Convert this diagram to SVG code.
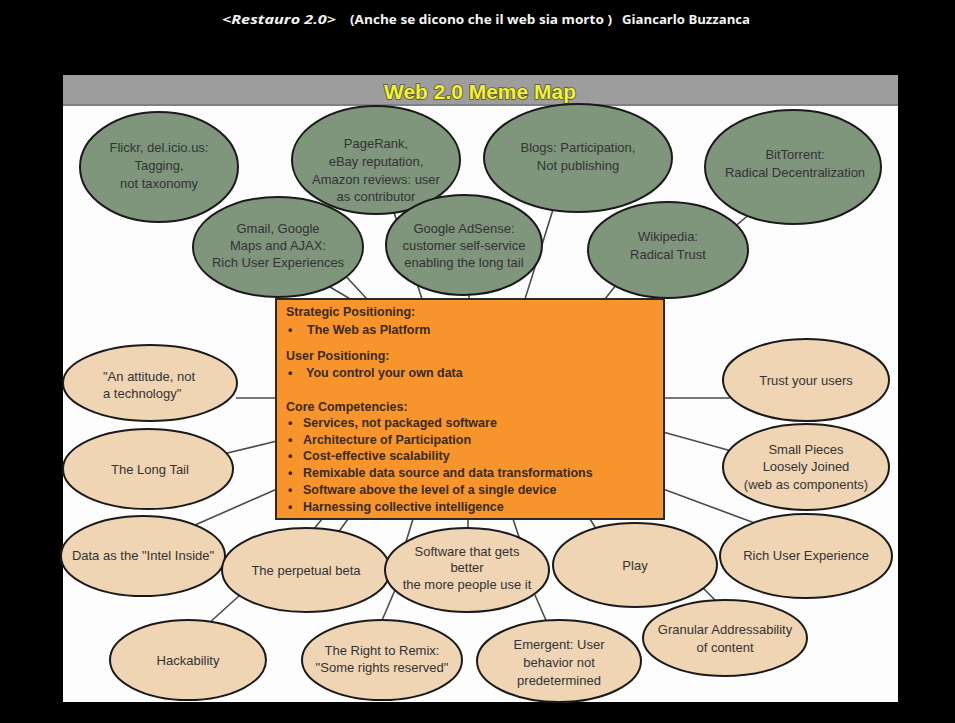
<svg xmlns="http://www.w3.org/2000/svg" width="955" height="723" viewBox="0 0 955 723">
<style>
.g{fill:#7f957c;stroke:#1a1a1a;stroke-width:2}
.b{fill:#efd5b3;stroke:#1a1a1a;stroke-width:2}
.t{font-family:"Liberation Sans",Arial,sans-serif;font-size:13px;fill:#333;text-anchor:middle}
.ts{font-family:"Liberation Sans",Arial,sans-serif;font-size:13px;fill:#333;text-anchor:start}
.bx{font-family:"Liberation Sans",Arial,sans-serif;font-size:12.5px;font-weight:bold;fill:#3a2a1a}
.c line{stroke:#4a4a4a;stroke-width:1.6}
.hd{font-family:"Open Sans","Liberation Sans",sans-serif;font-size:12.5px;font-weight:bold;fill:#f4f4f4}
.mm{font-family:"Liberation Sans",Arial,sans-serif;font-size:20px;font-weight:bold;fill:#f3f03a;stroke:#55552a;stroke-width:1.6;paint-order:stroke;text-anchor:middle}
</style>
<rect x="0" y="0" width="955" height="723" fill="#000"/>
<g id="title">
<text class="hd" x="222" y="24" font-style="italic" textLength="114" lengthAdjust="spacingAndGlyphs">&lt;Restauro 2.0&gt;</text>
<text class="hd" x="350" y="24" font-size="11.5" textLength="262" lengthAdjust="spacingAndGlyphs">(Anche se dicono che il web sia morto )</text>
<text class="hd" x="622" y="24" font-size="11.5" textLength="128" lengthAdjust="spacingAndGlyphs">Giancarlo Buzzanca</text>
</g>
<rect x="63" y="75" width="835" height="627" fill="#fdfdfd"/>
<g id="header">
<rect x="63" y="75" width="835" height="30" fill="#9d9d9d"/>
<rect x="63" y="104" width="835" height="2" fill="#808080"/>
<text class="mm" x="480" y="99" textLength="192" lengthAdjust="spacingAndGlyphs">Web 2.0 Meme Map</text>
</g>
<g id="connectors" class="c">
<line x1="235" y1="231" x2="352" y2="300"/>
<line x1="340" y1="270" x2="367" y2="299"/>
<line x1="390" y1="200" x2="422" y2="299"/>
<line x1="469" y1="288" x2="469" y2="299"/>
<line x1="556" y1="200" x2="525" y2="299"/>
<line x1="620" y1="280" x2="605" y2="299"/>
<line x1="752" y1="212" x2="650" y2="299"/>
<line x1="236" y1="398" x2="277" y2="398"/>
<line x1="215" y1="456" x2="277" y2="441"/>
<line x1="195" y1="525" x2="277" y2="489"/>
<line x1="322" y1="519" x2="305" y2="540"/>
<line x1="348" y1="519" x2="335" y2="537"/>
<line x1="413" y1="519" x2="405" y2="545"/>
<line x1="468" y1="519" x2="468" y2="535"/>
<line x1="513" y1="519" x2="520" y2="540"/>
<line x1="590" y1="519" x2="598" y2="532"/>
<line x1="663" y1="398" x2="730" y2="398"/>
<line x1="663" y1="432" x2="735" y2="452"/>
<line x1="663" y1="489" x2="760" y2="525"/>
<line x1="240" y1="595" x2="208" y2="624"/>
<line x1="395" y1="590" x2="380" y2="625"/>
<line x1="535" y1="595" x2="548" y2="625"/>
<line x1="700" y1="585" x2="720" y2="605"/>
</g>
<g id="flickr"><ellipse class="g" cx="159" cy="167" rx="79" ry="55"/>
<text class="t" x="159" y="152">Flickr, del.icio.us:</text><text class="t" x="159" y="170">Tagging,</text><text class="t" x="159" y="188">not taxonomy</text></g>
<g id="pagerank"><ellipse class="g" cx="376" cy="160" rx="84" ry="54"/>
<text class="t" x="376" y="148">PageRank,</text><text class="t" x="376" y="166">eBay reputation,</text><text class="t" x="376" y="184">Amazon reviews:  user</text><text class="t" x="376" y="201">as contributor</text></g>
<g id="blogs"><ellipse class="g" cx="578" cy="158" rx="94" ry="54"/>
<text class="t" x="578" y="152">Blogs:  Participation,</text><text class="t" x="578" y="170">Not publishing</text></g>
<g id="bittorrent"><ellipse class="g" cx="793" cy="167" rx="88" ry="57"/>
<text class="t" x="795" y="159">BitTorrent:</text><text class="t" x="795" y="177">Radical Decentralization</text></g>
<g id="gmail"><ellipse class="g" cx="278" cy="247" rx="85" ry="50"/>
<text class="t" x="278" y="233">Gmail, Google</text><text class="t" x="278" y="250">Maps and AJAX:</text><text class="t" x="278" y="267">Rich User Experiences</text></g>
<g id="adsense"><ellipse class="g" cx="464" cy="245" rx="78" ry="50"/>
<text class="t" x="464" y="233">Google AdSense:</text><text class="t" x="464" y="250">customer self-service</text><text class="t" x="464" y="267">enabling the long tail</text></g>
<g id="wikipedia"><ellipse class="g" cx="668" cy="250" rx="80" ry="48"/>
<text class="t" x="668" y="241">Wikipedia:</text><text class="t" x="668" y="259">Radical Trust</text></g>
<g id="core">
<rect x="276" y="299" width="388" height="220" fill="#f7952c" stroke="#2a2a2a" stroke-width="2"/>
<text class="bx" x="286" y="316">Strategic Positioning:</text>
<text class="bx" x="288" y="334">•</text><text class="bx" x="307" y="334">The Web as Platform</text>
<text class="bx" x="286" y="360">User Positioning:</text>
<text class="bx" x="288" y="377">•</text><text class="bx" x="306" y="377">You control your own data</text>
<text class="bx" x="286" y="411">Core Competencies:</text>
<text class="bx" x="288" y="427">•</text><text class="bx" x="303" y="427">Services, not packaged software</text>
<text class="bx" x="288" y="444">•</text><text class="bx" x="303" y="444">Architecture of Participation</text>
<text class="bx" x="288" y="460">•</text><text class="bx" x="303" y="460">Cost-effective scalability</text>
<text class="bx" x="288" y="477">•</text><text class="bx" x="303" y="477">Remixable data source and data transformations</text>
<text class="bx" x="288" y="494">•</text><text class="bx" x="303" y="494">Software above the level of a single device</text>
<text class="bx" x="288" y="511">•</text><text class="bx" x="303" y="511">Harnessing collective intelligence</text>
</g>
<g id="attitude"><ellipse class="b" cx="150" cy="383" rx="87" ry="38"/>
<text class="ts" x="103" y="381">"An attitude, not</text><text class="ts" x="103" y="398">a technology"</text></g>
<g id="longtail"><ellipse class="b" cx="148" cy="469" rx="85" ry="40"/>
<text class="t" x="150" y="474">The Long Tail</text></g>
<g id="intel"><ellipse class="b" cx="143" cy="556" rx="82" ry="40"/>
<text class="t" x="143" y="560">Data as the "Intel Inside"</text></g>
<g id="beta"><ellipse class="b" cx="306" cy="570" rx="84" ry="42"/>
<text class="t" x="306" y="575">The perpetual beta</text></g>
<g id="hackability"><ellipse class="b" cx="188" cy="660" rx="78" ry="40"/>
<text class="t" x="188" y="665">Hackability</text></g>
<g id="software"><ellipse class="b" cx="467" cy="570" rx="82" ry="42"/>
<text class="t" x="467" y="556">Software that gets</text><text class="t" x="467" y="572">better</text><text class="t" x="467" y="589">the more people use it</text></g>
<g id="play"><ellipse class="b" cx="635" cy="565" rx="82" ry="42"/>
<text class="t" x="635" y="570">Play</text></g>
<g id="remix"><ellipse class="b" cx="382" cy="660" rx="80" ry="40"/>
<text class="t" x="382" y="655">The Right to Remix:</text><text class="t" x="382" y="672">"Some rights reserved"</text></g>
<g id="emergent"><ellipse class="b" cx="559" cy="661" rx="82" ry="41"/>
<text class="t" x="559" y="649">Emergent:  User</text><text class="t" x="559" y="667">behavior not</text><text class="t" x="559" y="685">predetermined</text></g>
<g id="granular"><ellipse class="b" cx="725" cy="638" rx="82" ry="38"/>
<text class="t" x="725" y="634">Granular Addressability</text><text class="t" x="725" y="652">of content</text></g>
<g id="trust"><ellipse class="b" cx="806" cy="380" rx="83" ry="41"/>
<text class="t" x="806" y="385">Trust your users</text></g>
<g id="smallpieces"><ellipse class="b" cx="806" cy="467" rx="83" ry="43"/>
<text class="t" x="806" y="454">Small Pieces</text><text class="t" x="806" y="471">Loosely Joined</text><text class="t" x="806" y="489">(web as components)</text></g>
<g id="richux"><ellipse class="b" cx="806" cy="556" rx="86" ry="42"/>
<text class="t" x="806" y="560">Rich User Experience</text></g>
</svg>
